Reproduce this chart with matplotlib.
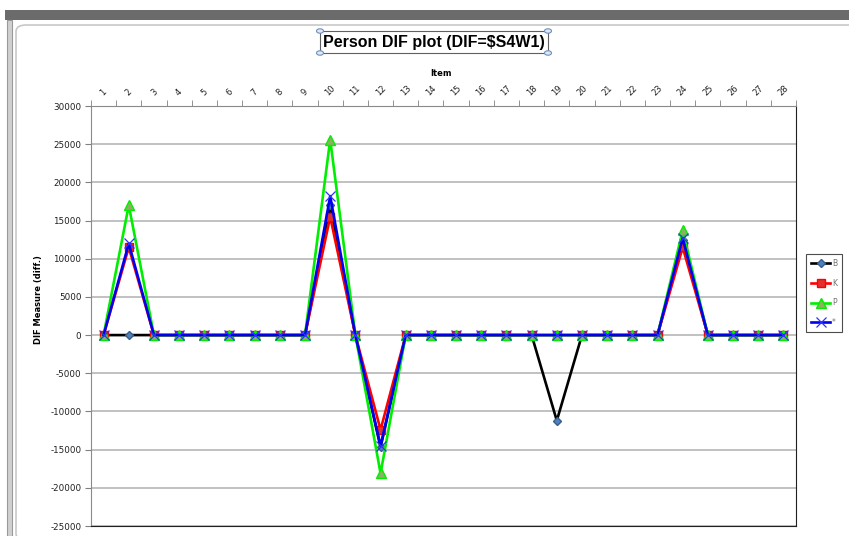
import matplotlib
matplotlib.use("Agg")
from matplotlib import pyplot as plt
from matplotlib.patches import FancyBboxPatch, Rectangle, Circle

# DIF measure per item for each group
items = list(range(1, 29))
dif_b = [0, 0, 0, 0, 0, 0, 0, 0, 0, 17000, 0, -14700, 0, 0, 0, 0, 0, 0, -11200, 0, 0, 0, 0, 12500, 0, 0, 0, 0]
dif_k = [0, 11500, 0, 0, 0, 0, 0, 0, 0, 15500, 0, -12400, 0, 0, 0, 0, 0, 0, 0, 0, 0, 0, 0, 11500, 0, 0, 0, 0]
dif_p = [0, 17000, 0, 0, 0, 0, 0, 0, 0, 25600, 0, -18100, 0, 0, 0, 0, 0, 0, 0, 0, 0, 0, 0, 13700, 0, 0, 0, 0]
dif_star = [0, 12000, 0, 0, 0, 0, 0, 0, 0, 18200, 0, -14500, 0, 0, 0, 0, 0, 0, 0, 0, 0, 0, 0, 12700, 0, 0, 0, 0]
y_ticks = list(range(-25000, 30001, 5000))

fig = plt.figure(figsize=(8.49, 5.36), dpi=100)
W, H = 849, 536

def fx(px):
    return px / W

def fy(py):
    return 1 - py / H

# window chrome around the chart (kept behind the axes)
fig.patches.append(Rectangle((fx(5), fy(20)), fx(844), 10 / H, transform=fig.transFigure,
                             facecolor="#6b6b6b", edgecolor="none", zorder=-5))
fig.patches.append(Rectangle((fx(7), 0), fx(5), fy(20), transform=fig.transFigure,
                             facecolor="#d0d0d0", edgecolor="#9a9a9a", lw=0.8, zorder=-5))
fig.patches.append(FancyBboxPatch((fx(16), fy(540)), fx(845), 515 / H,
                                  boxstyle="round,pad=0,rounding_size=0.012",
                                  transform=fig.transFigure, facecolor="white",
                                  edgecolor="#c8c8c8", lw=1.2, zorder=-5))

ax = fig.add_axes([fx(91), fy(526), fx(796 - 91), (526 - 106) / H])
ax.set_facecolor("white")

ax.plot(items, dif_b, color="black", lw=1.9, marker="D", ms=4.5,
        mfc="#4f81bd", mec="#385d8a", label="B", zorder=3)
ax.plot(items, dif_k, color="red", lw=1.9, marker="s", ms=6,
        mfc="#e03030", mec="red", label="K", zorder=4)
ax.plot(items, dif_p, color="#00ee00", lw=1.9, marker="^", ms=7,
        mfc="#8fb060", mec="#00ee00", label="P", zorder=5)
ax.plot(items, dif_star, color="#0000ee", lw=1.9, marker="x", ms=6.5,
        mew=0.9, mec="#3030ff", label="*", zorder=6)

ax.set_xlim(0.5, 28.5)
ax.set_ylim(-25000, 30000)
ax.set_yticks(y_ticks)
ax.set_yticklabels([str(v) for v in y_ticks], fontsize=6.3, color="#202020")
ax.yaxis.grid(True, color="#b0b0b0", lw=1.1)
ax.set_axisbelow(True)

ax.xaxis.tick_top()
ax.set_xticks(items)
ax.set_xticklabels([str(i) for i in items], rotation=45, fontsize=6,
                   color="#202020", ha="center", va="bottom")
ax.set_xticks([i + 0.5 for i in range(0, 29)], minor=True)
ax.tick_params(axis="x", which="major", length=0, pad=6)
ax.tick_params(axis="x", which="minor", length=4, color="#808080", top=True, bottom=False)
ax.tick_params(axis="y", length=4, color="#808080", pad=3)

for side in ("top", "left"):
    ax.spines[side].set_color("#8a8a8a")
for side in ("bottom", "right"):
    ax.spines[side].set_color("#202020")

fig.text(fx(441), fy(73), "Item", fontsize=6, fontweight="bold", ha="center", va="center")
fig.text(fx(39), fy(300), "DIF Measure (diff.)", fontsize=6, fontweight="bold",
         rotation=90, ha="center", va="center")

# title in its selected box
fig.text(fx(434), fy(42), "Person DIF plot (DIF=$S4W1)", fontsize=11.5, fontweight="bold",
         family=["Liberation Sans", "DejaVu Sans"], ha="center", va="center")
fig.patches.append(Rectangle((fx(320), fy(53)), fx(228), 22 / H, transform=fig.transFigure,
                             facecolor="none", edgecolor="#606060", lw=0.8))
for cx, cy in [(320, 31), (548, 31), (320, 53), (548, 53)]:
    fig.patches.append(Circle((fx(cx), fy(cy)), 3.5 / W, transform=fig.transFigure,
                              facecolor="#dfe8f5", edgecolor="#6d8fbf", lw=0.8))

leg = ax.legend(loc="center left", bbox_to_anchor=(fx(806), fy(293)),
                bbox_transform=fig.transFigure, frameon=True, fancybox=False,
                fontsize=5.5, handlelength=2.6, handletextpad=0.2,
                borderpad=0.6, labelspacing=1.4, borderaxespad=0)
leg.get_frame().set_edgecolor("#202020")
leg.get_frame().set_linewidth(0.8)
for t in leg.get_texts():
    t.set_color("#707070")

fig.savefig("out.png", dpi=100)
